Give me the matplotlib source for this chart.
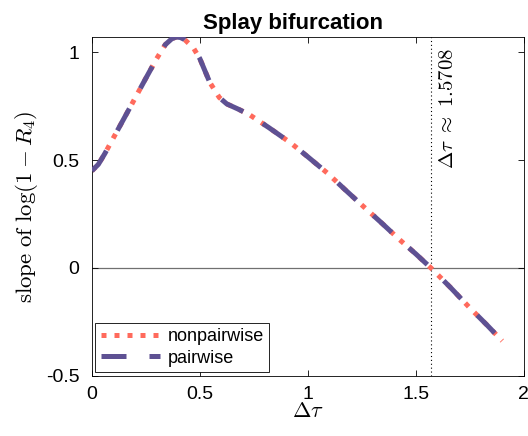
import matplotlib
matplotlib.use('Agg')
import matplotlib.pyplot as plt
import numpy as np

# values
dtau = [0.0, 0.03, 0.06, 0.12, 0.18, 0.245, 0.30, 0.34, 0.37, 0.39, 0.41, 0.43,
        0.47, 0.50, 0.546, 0.59, 0.625, 0.68, 0.73, 0.82, 0.92, 1.0, 1.09,
        1.17, 1.255, 1.34, 1.426, 1.50, 1.57, 1.66, 1.75, 1.83, 1.9]
slope = [0.45, 0.48, 0.53, 0.64, 0.75, 0.87, 0.97, 1.035, 1.062, 1.07, 1.068, 1.058,
         1.02, 0.97, 0.86, 0.79, 0.76, 0.735, 0.71, 0.65, 0.58, 0.515, 0.44,
         0.365, 0.287, 0.21, 0.13, 0.065, 0.0, -0.09, -0.185, -0.265, -0.338]
nonpairwise = slope
pairwise = slope
crit = 1.5708

plt.rcParams['font.family'] = 'Liberation Sans'
plt.rcParams['mathtext.fontset'] = 'cm'

fig = plt.figure(figsize=(5.28, 4.36), dpi=100)
ax = fig.add_axes([0.174, 0.138, 0.818, 0.777])

ax.axhline(0, color='#707070', linewidth=0.9, zorder=1)
ax.axvline(crit, color='black', linestyle=(0, (1, 2.5)), linewidth=0.8, zorder=1)

ax.plot(dtau, nonpairwise, color='#ff6a5c', linestyle=(0, (1, 1.6)), linewidth=3.6,
        label='nonpairwise', zorder=2)
ax.plot(dtau, pairwise, color='#5e5193', linestyle=(0, (5, 4.6)), linewidth=3.6,
        label='pairwise', zorder=3)

ax.text(crit + 0.075, 1.02, r'$\Delta\tau\ \approx\ 1.5708$', rotation=90,
        fontsize=15, ha='center', va='top')

ax.set_xlim(0, 2)
ax.set_ylim(-0.5, 1.07)
ax.set_xticks([0, 0.5, 1, 1.5, 2])
ax.set_xticklabels(['0', '0.5', '1', '1.5', '2'])
ax.set_yticks([-0.5, 0, 0.5, 1])
ax.set_yticklabels(['-0.5', '0', '0.5', '1'])
ax.tick_params(direction='in', top=True, right=True, labelsize=14, length=4, width=0.6)
ax.tick_params(axis='y', pad=9)
ax.tick_params(axis='x', pad=7)
for s in ax.spines.values():
    s.set_linewidth(0.6)

ax.set_xlabel(r'$\Delta\tau$', fontsize=16, labelpad=-1)
ax.set_ylabel(r'$\mathrm{slope\ of\ }\log(1-R_4)$', fontsize=16.5, labelpad=4)
ax.set_title('Splay bifurcation', fontsize=16, fontweight='bold', pad=6, x=0.465)

leg = ax.legend(loc='lower left', fontsize=13, handlelength=3.3, handletextpad=0.4,
                borderaxespad=0.2, fancybox=False, edgecolor='black',
                framealpha=1, labelspacing=0.25, borderpad=0.3)
leg.get_frame().set_linewidth(0.6)

fig.savefig('out.png', dpi=100)
